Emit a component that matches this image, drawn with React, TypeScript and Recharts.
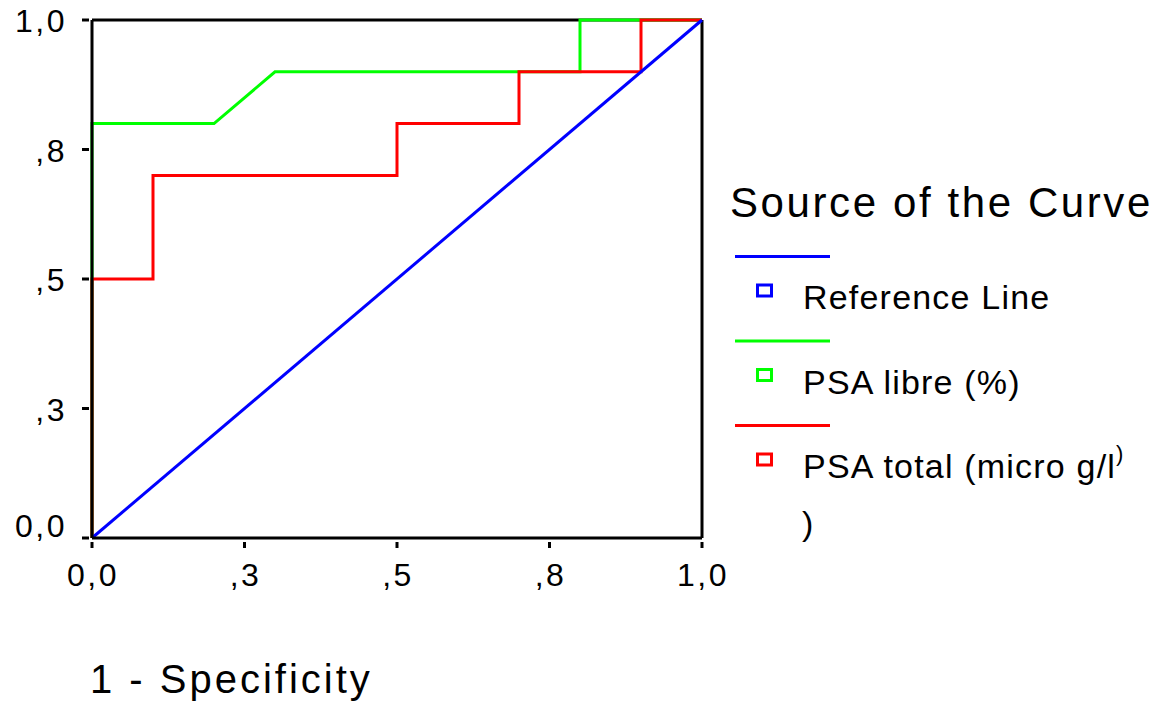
import React from "react";
import { LineChart, Line, XAxis, YAxis, ReferenceLine } from "recharts";

// ---- Data ----
const refX = [0, 1];
const refY = [0, 1];
const libreX = [0, 0, 0.2, 0.3, 0.8, 0.8, 1];
const libreY = [0, 0.8, 0.8, 0.9, 0.9, 1, 1];
const totalX = [0, 0, 0.1, 0.1, 0.5, 0.5, 0.7, 0.7, 0.9, 0.9, 1];
const totalY = [0, 0.5, 0.5, 0.7, 0.7, 0.8, 0.8, 0.9, 0.9, 1, 1];

const tickValues = [0, 0.25, 0.5, 0.75, 1];
const tickLabels = ["0,0", ",3", ",5", ",8", "1,0"];

const legendTitle = "Source of the Curve";
const seriesNames = ["Reference Line", "PSA libre (%)", "PSA total (micro g/l"];
const seriesColors = ["#0000ff", "#00ff00", "#ff0000"];
const xAxisTitle = "1 - Specificity";

const zip = (xs: number[], ys: number[]) => xs.map((x, i) => ({ x, y: ys[i] }));
const refData = zip(refX, refY);
const libreData = zip(libreX, libreY);
const totalData = zip(totalX, totalY);

const FONT = "'Liberation Sans', Arial, sans-serif";

const labelFor = (v: number) => {
  const i = tickValues.indexOf(v);
  return i >= 0 ? tickLabels[i] : String(v);
};

const YTick = (props: any) => {
  const { x, y, payload } = props;
  const v = payload.value;
  return (
    <g>
      <line x1={x - 10} x2={x - 3} y1={y} y2={y} stroke="#000" strokeWidth={3} />
      <text
        x={x - 25}
        y={v === 0 ? y - 1 : y + 12}
        textAnchor="end"
        fontSize={32}
        fontFamily={FONT}
        letterSpacing={2.5}
        fill="#000"
      >
        {labelFor(v)}
      </text>
    </g>
  );
};

const XTick = (props: any) => {
  const { x, y, payload } = props;
  const v = payload.value;
  return (
    <g>
      <line x1={x} x2={x} y1={y + 4} y2={y + 10} stroke="#000" strokeWidth={3} />
      <text
        x={x + 1}
        y={y + 48}
        textAnchor="middle"
        fontSize={32}
        fontFamily={FONT}
        letterSpacing={2.5}
        fill="#000"
      >
        {labelFor(v)}
      </text>
    </g>
  );
};

const XTitle = () => (
  <text x={90} y={693} fontSize={40} fontFamily={FONT} letterSpacing={3} fill="#000">
    {xAxisTitle}
  </text>
);

const LegendBlock = () => (
  <svg
    width={459}
    height={400}
    style={{ position: "absolute", left: 700, top: 170, display: "block", overflow: "visible" }}
  >
    <text x={30} y={47} fontSize={42} fontFamily={FONT} letterSpacing={2.6} fill="#000">
      {legendTitle}
    </text>
    {seriesNames.map((name, i) => {
      const off = 84.5 * i;
      return (
        <g key={name}>
          <line x1={35} x2={130} y1={86.5 + off} y2={86.5 + off} stroke={seriesColors[i]} strokeWidth={3} />
          <rect x={57.5} y={115 + off} width={14} height={11} fill="#fff" stroke={seriesColors[i]} strokeWidth={3} />
          <text x={103} y={139 + off} fontSize={34} fontFamily={FONT} letterSpacing={1.2} fill="#000">
            {name}
          </text>
        </g>
      );
    })}
    <text x={102} y={365} fontSize={34} fontFamily={FONT} fill="#000">
      )
    </text>
    <text x={416} y={291} fontSize={22} fontFamily={FONT} fill="#000">
      )
    </text>
  </svg>
);

export default function App() {
  return (
    <div style={{ position: "absolute", left: 0, top: 0, width: 1159, height: 704, background: "#fff" }}>
      <LineChart
        width={1159}
        height={704}
        margin={{ top: 20, right: 457, bottom: 0, left: 0 }}
        style={{ fontFamily: FONT }}
      >
        <XAxis
          type="number"
          dataKey="x"
          domain={[0, 1]}
          ticks={tickValues}
          interval={0}
          height={166}
          tickSize={0}
          tickMargin={0}
          tickLine={false}
          axisLine={{ stroke: "#000", strokeWidth: 3 }}
          tick={<XTick />}
          label={<XTitle />}
        />
        <YAxis
          type="number"
          dataKey="y"
          domain={[0, 1]}
          ticks={tickValues}
          interval={0}
          width={92}
          tickSize={0}
          tickMargin={0}
          tickLine={false}
          axisLine={{ stroke: "#000", strokeWidth: 3 }}
          tick={<YTick />}
        />
        <ReferenceLine y={1} stroke="#000" strokeWidth={3} />
        <ReferenceLine x={1} stroke="#000" strokeWidth={3} />
        <Line
          data={libreData}
          dataKey="y"
          type="linear"
          stroke={seriesColors[1]}
          strokeWidth={3}
          dot={false}
          activeDot={false}
          isAnimationActive={false}
          name={seriesNames[1]}
        />
        <Line
          data={totalData}
          dataKey="y"
          type="linear"
          stroke={seriesColors[2]}
          strokeWidth={3}
          dot={false}
          activeDot={false}
          isAnimationActive={false}
          name={seriesNames[2]}
        />
        <Line
          data={refData}
          dataKey="y"
          type="linear"
          stroke={seriesColors[0]}
          strokeWidth={3}
          dot={false}
          activeDot={false}
          isAnimationActive={false}
          name={seriesNames[0]}
        />
      </LineChart>
      <LegendBlock />
    </div>
  );
}
